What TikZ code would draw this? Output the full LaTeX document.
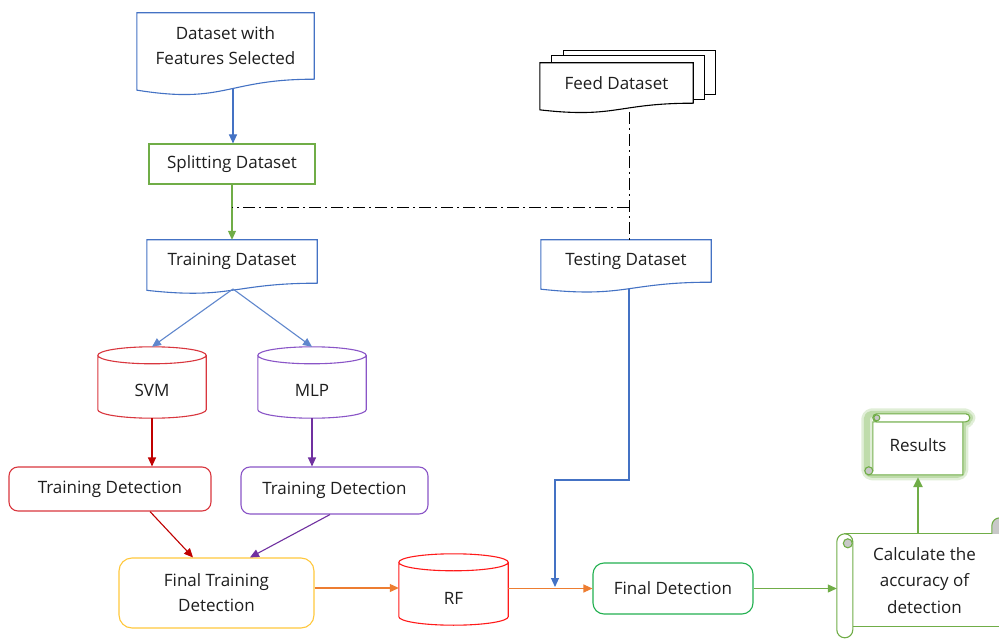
\documentclass[tikz,border=0pt]{standalone}
\usepackage{fontspec}
\setmainfont{Open Sans}
\usetikzlibrary{arrows.meta,calc,backgrounds}

\definecolor{ink}{HTML}{1E1E1E}
\definecolor{cblue}{HTML}{4472C4}
\definecolor{cgreen}{HTML}{70AD47}
\definecolor{cred}{HTML}{D9363E}
\definecolor{cdarkred}{HTML}{C00000}
\definecolor{cpurple}{HTML}{8A55C7}
\definecolor{cdarkpurple}{HTML}{7030A0}
\definecolor{cyellow}{HTML}{FFC83D}
\definecolor{corange}{HTML}{ED7D31}
\definecolor{crf}{HTML}{FF1A1A}
\definecolor{cfd}{HTML}{22B050}
\definecolor{curl}{HTML}{C8C8C8}
\definecolor{cglow}{HTML}{A9D18E}

% flowchart "document" outline with a wavy foot below the node box
\newcommand\docoutline[2]{%
  \draw[#2, line width=1.1pt, fill=white]
    (#1.north west) -- (#1.north east) -- (#1.south east)
    .. controls (#1.south) and ($(#1.south)!-0.381!(#1.north)$)
    .. ($(#1.south west)!-0.1646!(#1.north west)$) -- cycle;}

% upright database cylinder filling the node box
\newcommand\cyloutline[2]{%
  \path[draw=#2, line width=1.1pt, fill=white]
    let \p1=(#1.north west), \p2=(#1.south east), \n1={(\x2-\x1)/2} in
    (\x1,\y1-8.5pt) -- (\x1,\y2+8.5pt)
    arc[start angle=180, end angle=360, x radius={\n1*1pt}, y radius=8.5pt]
    -- (\x2,\y1-8.5pt)
    arc[start angle=0, end angle=360, x radius={\n1*1pt}, y radius=8.5pt];}

% label sitting in the body of a cylinder, below its lid
\newcommand\cyltext[2]{\raisebox{#1}[0pt][0pt]{#2}}

\tikzset{
  txt/.style={font=\fontsize{17pt}{25pt}\selectfont, text=ink, align=center, inner sep=0pt},
  plainbox/.style={txt, draw, line width=1.1pt},
  roundbox/.style={txt, draw, line width=1.1pt, rounded corners=9pt},
  arr/.style={line width=1.1pt, -{Triangle[length=9pt, width=8pt]}},
  dashdot/.style={line width=1pt, black, dash pattern=on 12pt off 4pt on 2pt off 4pt},
  scrollline/.style={draw=cgreen, line width=1.1pt},
  glowline/.style={cglow, line join=round, line cap=round, rounded corners=5pt},
}

\begin{document}
\begin{tikzpicture}[x=1pt, y=-1pt]
\useasboundingbox (0,0) rectangle (999,639);

% ---------- nodes ----------
\node[txt, minimum width=177pt, minimum height=66pt] (ds) at (225.5,46) {Dataset with\\Features Selected};
\node[plainbox, draw=cgreen, minimum width=166pt, minimum height=40pt] (split) at (232,164) {Splitting Dataset};
\node[txt, minimum width=170pt, minimum height=43pt] (train) at (232,261.5) {Training Dataset};
\node[txt, minimum width=170pt, minimum height=42pt] (test) at (626,261) {Testing Dataset};
\node[txt, minimum width=153pt, minimum height=40pt] (feed) at (616.5,83) {Feed Dataset};

\node[txt, minimum width=108pt, minimum height=71pt] (svm) at (152,382.5) {\cyltext{-13.5pt}{SVM}};
\node[txt, minimum width=108pt, minimum height=71pt] (mlp) at (312,382.5) {\cyltext{-14pt}{MLP}};

\node[roundbox, draw=cred, minimum width=202pt, minimum height=44pt] (td1) at (110,489) {Training Detection};
\node[roundbox, draw=cpurple, minimum width=187pt, minimum height=47pt] (td2) at (334.5,490.5) {Training Detection};

\node[roundbox, draw=cyellow, rounded corners=13pt, minimum width=195pt, minimum height=70pt] (ftd) at (216.5,593) {Final Training\\Detection};
\node[txt, minimum width=109pt, minimum height=71pt] (rf) at (453.5,589.5) {\cyltext{-14.5pt}{RF}};
\node[roundbox, draw=cfd, rounded corners=11pt, minimum width=160pt, minimum height=51pt] (fd) at (673,588.5) {Final Detection};

\node[txt, font=\fontsize{17pt}{26.5pt}\selectfont, minimum width=175pt, minimum height=93pt] (calc) at (924.5,580.5) {Calculate the\\accuracy of\\detection};
\node[txt, minimum width=90pt, minimum height=61pt] (results) at (918,445.5) {Results};

% feet of the wavy shapes, where connectors leave them
\coordinate (dsfoot) at (233,88);
\coordinate (trainfoot) at (233,289);
\coordinate (testfoot) at (629,289);
\coordinate (feedfoot) at (629,112);
\coordinate (cut) at (629,208);
\coordinate (tkink) at (555,480);
\coordinate (tin) at (555,587);

% ---------- outlines behind the text ----------
\begin{pgfonlayer}{background}
  \fill[white] (0,0) rectangle (999,639);

  \docoutline{ds}{cblue}
  \docoutline{train}{cblue}
  \docoutline{test}{cblue}

  % stacked pages of the feed
  \draw[black, line width=1pt, fill=white] ($(feed.north west)+(24,-12)$) rectangle ($(feed.south east)+(22,-9)$);
  \draw[black, line width=1pt, fill=white] ($(feed.north west)+(12,-7)$) rectangle ($(feed.south east)+(11,-4)$);
  \docoutline{feed}{black}

  \cyloutline{svm}{cred}
  \cyloutline{mlp}{cpurple}
  \cyloutline{rf}{crf}

  % horizontal scroll
  \begin{scope}[shift={(calc.north west)}]
    \draw[scrollline, fill=white] (8,0) -- (190,0) -- (190,93) -- (8,93) -- cycle;
    \draw[scrollline, fill=white, rounded corners=8pt] (0,0) rectangle (16,104);
    \draw[scrollline, fill=curl] (11,9.5) circle[radius=4.5pt];
    \draw[scrollline, fill=curl] (155,0) -- (155,-8) arc[start angle=180, end angle=0, radius=8pt] -- (171,0);
  \end{scope}

  % results scroll with its soft glow
  \begin{scope}[shift={([yshift=1pt]results.north west)}]
    \draw[glowline, line width=11pt, opacity=0.35] (-6,0) -- (97,0) -- (97,8) -- (90,8) -- (90,61) -- (-6,61) -- cycle;
    \draw[glowline, line width=6pt, opacity=0.6] (-6,0) -- (97,0) -- (97,8) -- (90,8) -- (90,61) -- (-6,61) -- cycle;
    \draw[scrollline, fill=white] (0,8) -- (0,57) -- (-4,61) -- (90,61) -- (90,8) -- cycle;
    \draw[scrollline, fill=white, rounded corners=4pt] (0,0) rectangle (97,8);
    \draw[scrollline, fill=curl] (4,4) circle[radius=3pt];
    \draw[scrollline, fill=curl] (-4,57) circle[radius=4pt];
  \end{scope}
\end{pgfonlayer}

% ---------- connectors ----------
\draw[arr, cblue] (dsfoot) -- (dsfoot |- split.north);
\draw[arr, cgreen] (split.south) -- (train.north);
\draw[dashdot] (cut) -- (cut -| split.south);
\draw[dashdot] (feedfoot) -- (feedfoot |- test.north);

\draw[arr, cblue!85] (trainfoot) -- (svm.north);
\draw[arr, cblue!85] (trainfoot) -- (mlp.north);

\draw[arr, cdarkred] (svm.south) -- (svm.south |- td1.north);
\draw[arr, cdarkpurple] (mlp.south) -- (mlp.south |- td2.north);

\draw[arr, cdarkred] ([xshift=40pt]td1.south) -- ([xshift=-23.5pt]ftd.north);
\draw[arr, cdarkpurple] ([xshift=-4.5pt]td2.south) -- ([xshift=33.5pt]ftd.north);

\draw[arr, corange] ([yshift=5pt]ftd.east) -- ([yshift=5pt]ftd.east -| rf.west);
\draw[arr, corange] (rf.east |- fd.west) -- (fd.west);
\draw[arr, cblue] (testfoot) |- (tkink) -- (tin);

\draw[arr, cgreen] (fd.east) -- (fd.east -| calc.west);
\draw[cgreen, line width=2.4pt, -{Triangle[length=10pt, width=9pt]}] (results.south |- calc.north) -- ([yshift=-1pt]results.south);
\end{tikzpicture}
\end{document}
